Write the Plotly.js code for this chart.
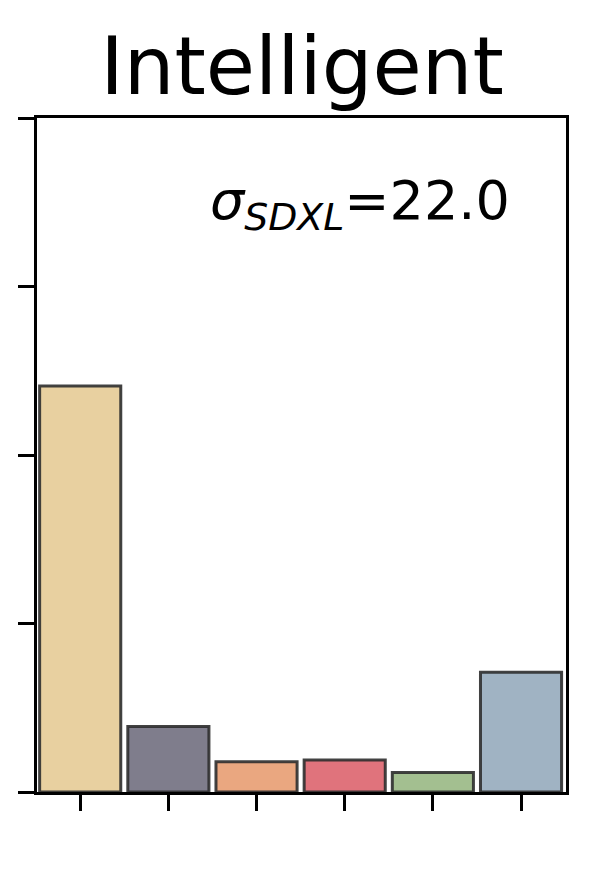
<!DOCTYPE html>
<html>
<head>
<meta charset="utf-8">
<script src="https://cdn.plot.ly/plotly-3.0.1.min.js"></script>
<style>
  html, body { margin: 0; padding: 0; background: #fff; }
  #chart { width: 598px; height: 872px; }
</style>
</head>
<body>
<div id="chart"></div>
<script>
var positions = [0, 1, 2, 3, 4, 5];
var shares = [0.6025, 0.097, 0.045, 0.0475, 0.029, 0.1775];
var barColors = ['#E8D0A0', '#7F7D8C', '#EAA780', '#E0737C', '#A3BF90', '#A0B3C3'];
var yTicks = [0, 0.25, 0.5, 0.75, 1];
var titleText = 'Intelligent';
var sigmaLabel = '<i>σ</i><sub><i>SDXL</i></sub>=22.0';

var bars = {
	x: positions,
	y: shares,
	type: 'bar',
	width: 0.92,
	hoverinfo: 'y',
	marker: {
		color: barColors,
		line: { color: 'rgba(45,45,45,0.9)', width: 3 }
	}
};

var layout = {
	width: 598,
	height: 872,
	margin: { l: 37, r: 32, t: 118, b: 80 },
	paper_bgcolor: '#fff',
	plot_bgcolor: '#fff',
	showlegend: false,
	font: { family: 'DejaVu Sans', color: '#000' },
	title: {
		text: titleText,
		font: { size: 80, family: 'DejaVu Sans', color: '#000' },
		x: 0.505,
		xanchor: 'center',
		y: 0.892,
		yanchor: 'bottom'
	},
	xaxis: {
		range: [-0.49, 5.51],
		tickvals: positions,
		showticklabels: false,
		ticks: 'outside',
		ticklen: 16,
		tickwidth: 3,
		tickcolor: '#000',
		showline: true,
		linecolor: '#000',
		linewidth: 3,
		mirror: true,
		showgrid: false,
		zeroline: false
	},
	yaxis: {
		range: [0, 1],
		tickvals: yTicks,
		showticklabels: false,
		ticks: 'outside',
		ticklen: 16,
		tickwidth: 3,
		tickcolor: '#000',
		showline: true,
		linecolor: '#000',
		linewidth: 3,
		mirror: true,
		showgrid: false,
		zeroline: false
	},
	annotations: [{
		text: sigmaLabel,
		xref: 'paper',
		yref: 'paper',
		x: 0.897,
		y: 0.872,
		xanchor: 'right',
		yanchor: 'middle',
		showarrow: false,
		font: { size: 54, family: 'DejaVu Sans', color: '#000' }
	}]
};

Plotly.newPlot('chart', [bars], layout, { displayModeBar: false, staticPlot: true });
</script>
</body>
</html>
